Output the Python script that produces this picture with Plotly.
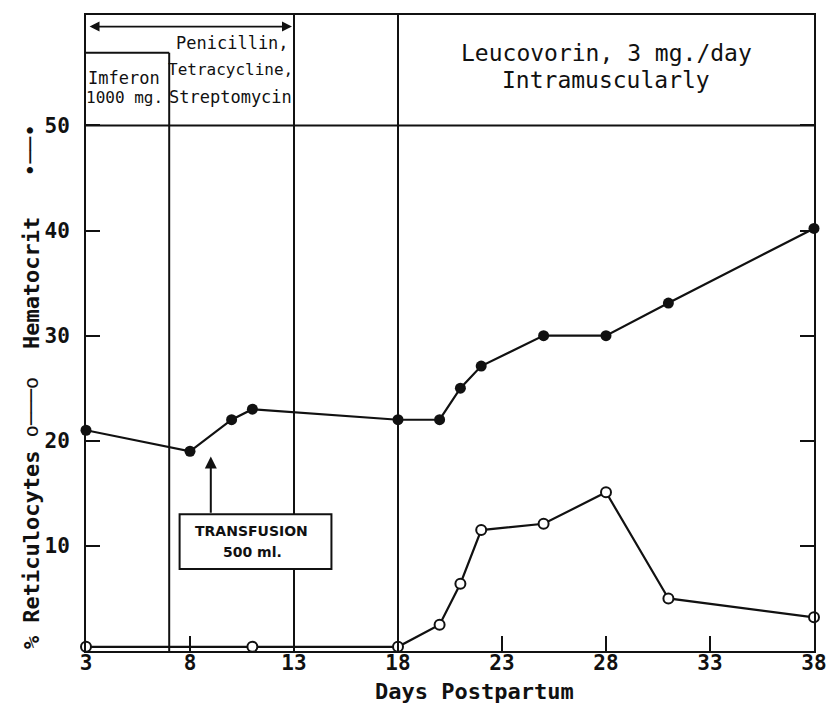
import plotly.graph_objects as go

# Hematocrit (%) by day postpartum
days_hct = [3, 8, 10, 11, 18, 20, 21, 22, 25, 28, 31, 38]
hematocrit = [21.0, 19.0, 22.0, 23.0, 22.0, 22.0, 25.0, 27.1, 30.0, 30.0, 33.1, 40.2]

# Reticulocytes (%) by day postpartum
days_retic = [3, 11, 18, 20, 21, 22, 25, 28, 31, 38]
reticulocytes = [0.4, 0.4, 0.4, 2.5, 6.4, 11.5, 12.1, 15.1, 5.0, 3.2]

x_ticks = [3, 8, 13, 18, 23, 28, 33, 38]
y_ticks = [10, 20, 30, 40, 50]

# Treatment periods (days postpartum)
imferon_end = 7
antibiotics_end = 13
leucovorin_start = 18
transfusion_day = 9

X_MIN, X_MAX = 3, 38
Y_MIN, Y_MAX = 0, 60.5
HEADER_Y = 50
IMFERON_TOP = 56.9
ARROW_Y = 59.4

MONO = "DejaVu Sans Mono"
SANS = "DejaVu Sans"
INK = "#111111"

fig = go.Figure()

fig.add_trace(go.Scatter(
    x=days_hct, y=hematocrit, mode="lines+markers",
    line=dict(color=INK, width=2.2),
    marker=dict(symbol="circle", size=11, color=INK),
    cliponaxis=False, showlegend=False, name="Hematocrit",
))
fig.add_trace(go.Scatter(
    x=days_retic, y=reticulocytes, mode="lines+markers",
    line=dict(color=INK, width=2.2),
    marker=dict(symbol="circle", size=10, color="white", line=dict(color=INK, width=2)),
    cliponaxis=False, showlegend=False, name="% Reticulocytes",
))

line_style = dict(color=INK, width=2)
shapes = [
    # treatment dividers
    dict(type="line", x0=imferon_end, x1=imferon_end, y0=Y_MIN, y1=IMFERON_TOP, line=line_style, layer="below"),
    dict(type="line", x0=X_MIN, x1=imferon_end, y0=IMFERON_TOP, y1=IMFERON_TOP, line=line_style, layer="below"),
    dict(type="line", x0=antibiotics_end, x1=antibiotics_end, y0=Y_MIN, y1=Y_MAX, line=line_style, layer="below"),
    dict(type="line", x0=leucovorin_start, x1=leucovorin_start, y0=Y_MIN, y1=Y_MAX, line=line_style, layer="below"),
    dict(type="line", x0=X_MIN, x1=X_MAX, y0=HEADER_Y, y1=HEADER_Y, line=line_style, layer="below"),
    # transfusion label box
    dict(type="rect", x0=7.5, x1=14.8, y0=7.8, y1=13.0, fillcolor="white",
         line=dict(color=INK, width=2), layer="above"),
]

annotations = [
    # period arrow for antibiotics
    dict(x=antibiotics_end - 0.1, y=ARROW_Y, ax=X_MIN + 0.1, ay=ARROW_Y, xref="x", yref="y",
         axref="x", ayref="y", text="", showarrow=True, arrowhead=2, arrowside="end+start",
         arrowsize=1.1, arrowwidth=1.8, arrowcolor=INK, standoff=0, startstandoff=0),
    # transfusion arrow
    dict(x=transfusion_day, y=18.5, ax=transfusion_day, ay=13.0, xref="x", yref="y",
         axref="x", ayref="y", text="", showarrow=True, arrowhead=2,
         arrowsize=1.2, arrowwidth=2, arrowcolor=INK, standoff=0),
    dict(x=10.95, y=11.4, xref="x", yref="y", text="<b>TRANSFUSION</b>", showarrow=False,
         font=dict(family=SANS, size=14, color=INK)),
    dict(x=11.0, y=9.4, xref="x", yref="y", text="<b>500 ml.</b>", showarrow=False,
         font=dict(family=SANS, size=14, color=INK)),
    # header texts
    dict(x=4.85, y=54.5, xref="x", yref="y", text="Imferon", showarrow=False,
         font=dict(family=MONO, size=17, color=INK)),
    dict(x=4.85, y=52.7, xref="x", yref="y", text="1000 mg.", showarrow=False,
         font=dict(family=MONO, size=16, color=INK)),
    dict(x=10.05, y=57.8, xref="x", yref="y", text="Penicillin,", showarrow=False,
         font=dict(family=MONO, size=17, color=INK)),
    dict(x=9.95, y=55.3, xref="x", yref="y", text="Tetracycline,", showarrow=False,
         font=dict(family=MONO, size=16, color=INK)),
    dict(x=9.95, y=52.7, xref="x", yref="y", text="Streptomycin", showarrow=False,
         font=dict(family=MONO, size=17, color=INK)),
    dict(x=28.0, y=56.9, xref="x", yref="y", text="Leucovorin, 3 mg./day", showarrow=False,
         font=dict(family=MONO, size=23, color=INK)),
    dict(x=28.0, y=54.3, xref="x", yref="y", text="Intramuscularly", showarrow=False,
         font=dict(family=MONO, size=23, color=INK)),
    # axis titles
    dict(x=21.7, y=-0.064, xref="x", yref="paper", text="<b>Days Postpartum</b>", showarrow=False,
         font=dict(family=MONO, size=22, color=INK), xanchor="center", yanchor="middle"),
    dict(x=-0.0755, y=9.6, xref="paper", yref="y", text="<b>% Reticulocytes</b>", showarrow=False,
         textangle=-90, xanchor="center", yanchor="middle",
         font=dict(family=MONO, size=22, color=INK)),
    dict(x=-0.0755, y=23.2, xref="paper", yref="y", text="o───o", showarrow=False,
         textangle=-90, xanchor="center", yanchor="middle",
         font=dict(family=MONO, size=20, color=INK)),
    dict(x=-0.0755, y=35.0, xref="paper", yref="y", text="<b>Hematocrit</b>", showarrow=False,
         textangle=-90, xanchor="center", yanchor="middle",
         font=dict(family=MONO, size=22, color=INK)),
    dict(x=-0.0755, y=47.6, xref="paper", yref="y", text="•──•", showarrow=False,
         textangle=-90, xanchor="center", yanchor="middle",
         font=dict(family=MONO, size=22, color=INK)),
]

fig.update_layout(
    width=826, height=711,
    margin=dict(l=86, r=12, t=15, b=60, autoexpand=False),
    paper_bgcolor="white", plot_bgcolor="white",
    shapes=shapes, annotations=annotations,
    font=dict(family=MONO, size=22, color=INK),
    xaxis=dict(range=[X_MIN, X_MAX], tickvals=x_ticks, ticktext=[str(v) for v in x_ticks],
               ticks="inside", ticklen=15, tickwidth=2, tickcolor=INK,
               showline=True, linewidth=2, linecolor=INK, mirror=True,
               showgrid=False, zeroline=False, fixedrange=True, automargin=False,
               ticklabelstandoff=-8, ticklabeloverflow="allow",
               tickfont=dict(family=MONO, size=21, color=INK, weight="bold")),
    yaxis=dict(range=[Y_MIN, Y_MAX], tickvals=y_ticks, ticktext=[str(v) for v in y_ticks],
               ticks="inside", ticklen=14, tickwidth=2, tickcolor=INK,
               showline=True, linewidth=2, linecolor=INK, mirror="ticks",
               showgrid=False, zeroline=False, fixedrange=True, automargin=False,
               ticklabelstandoff=10, ticklabeloverflow="allow",
               tickfont=dict(family=MONO, size=21, color=INK, weight="bold")),
)

fig.write_html("out.html")
